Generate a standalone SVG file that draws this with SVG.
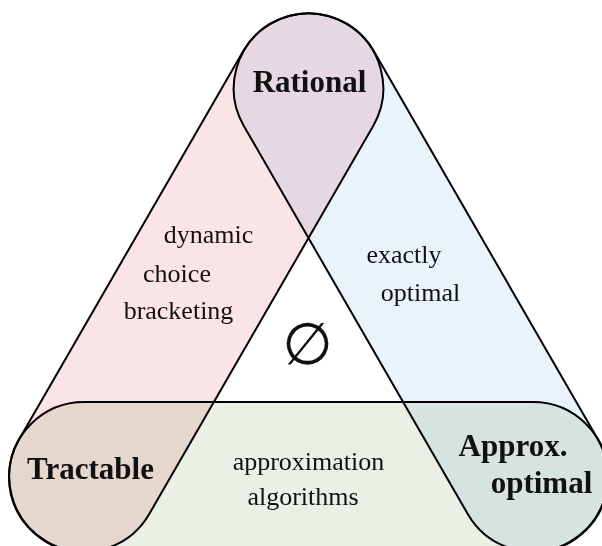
<svg xmlns="http://www.w3.org/2000/svg" width="602" height="546" viewBox="0 0 602 546">
<style>
.band{stroke:#000;stroke-width:2;mix-blend-mode:multiply;stroke-linejoin:round}
.big{font-family:"Liberation Serif","Times New Roman",serif;font-weight:bold;font-size:31px;fill:#111;text-anchor:middle}
.lbl{font-family:"Liberation Serif","Times New Roman",serif;font-size:26px;fill:#111;text-anchor:middle}
</style>
<rect x="0" y="0" width="602" height="546" fill="#fff"/>
<g id="bands">
<path id="band-rational-tractable" class="band" fill="#fae4e6" d="M373.45 125.5 L148.95 514.5 A75 75 0 0 1 19.05 439.5 L243.55 50.5 A75 75 0 0 1 373.45 125.5 Z"/>
<path id="band-rational-approx" class="band" fill="#eaf2fb" d="M243.55 125.5 L468.05 514.5 A75 75 0 0 0 597.95 439.5 L373.45 50.5 A75 75 0 0 0 243.55 125.5 Z"/>
<path id="band-tractable-approx" class="band" fill="#eaf0e5" d="M84 402 L533 402 A75 75 0 0 1 533 552 L84 552 A75 75 0 0 1 84 402 Z"/>
</g>
<g id="node-rational"><text class="big" x="309.5" y="92">Rational</text></g>
<g id="node-tractable"><text class="big" x="90.5" y="479">Tractable</text></g>
<g id="node-approx"><text class="big" x="513" y="456">Approx.</text><text class="big" x="541.5" y="493">optimal</text></g>
<g id="region-rt"><text class="lbl" x="208.5" y="243">dynamic</text><text class="lbl" x="177" y="282">choice</text><text class="lbl" x="178.5" y="319">bracketing</text></g>
<g id="region-ra"><text class="lbl" x="404" y="263">exactly</text><text class="lbl" x="420.5" y="301">optimal</text></g>
<g id="region-ta"><text class="lbl" x="308.5" y="470">approximation</text><text class="lbl" x="303" y="505">algorithms</text></g>
<g id="region-all"><text x="307.5" y="364" font-family="DejaVu Sans, sans-serif" font-size="58" text-anchor="middle" fill="#111">∅</text></g>
</svg>
